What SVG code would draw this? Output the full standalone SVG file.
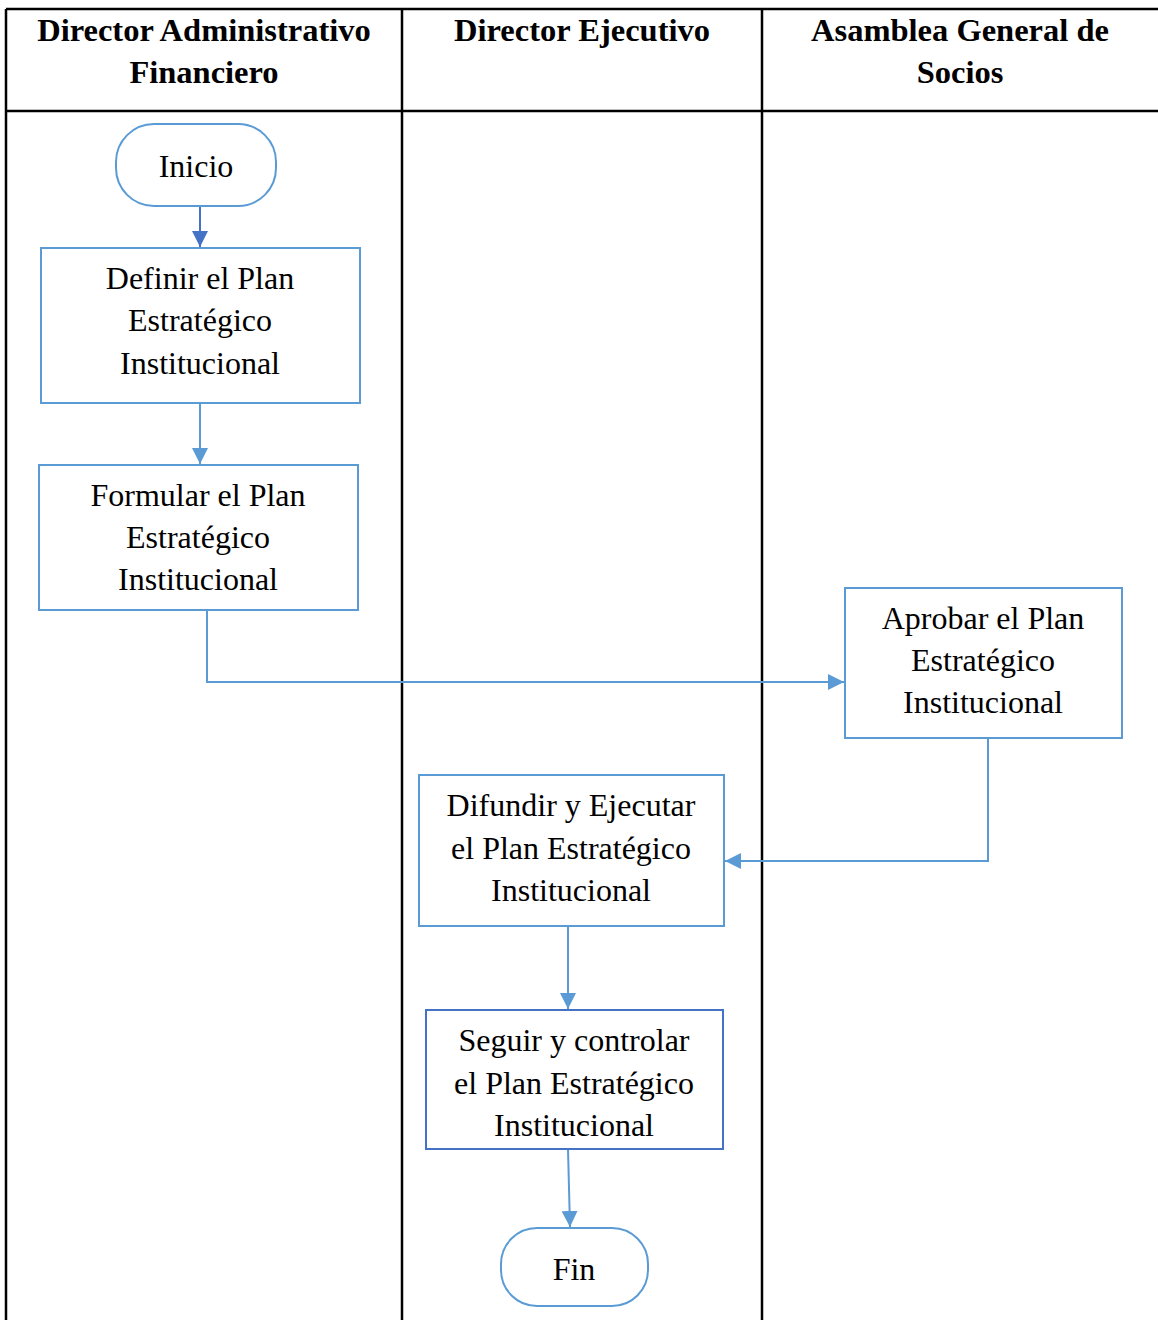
<svg xmlns="http://www.w3.org/2000/svg" width="1158" height="1320" viewBox="0 0 1158 1320">
<style>
.grid{stroke:#000;stroke-width:2.5;fill:none}
.hd{font-family:"Liberation Serif","Times New Roman",serif;font-weight:bold;font-size:32.5px;fill:#000;text-anchor:middle}
.tx{font-family:"Liberation Serif","Times New Roman",serif;font-size:32px;fill:#000;text-anchor:middle}
.box{fill:#fff;stroke:#5B9BD5;stroke-width:2}
.box2{fill:#fff;stroke:#4472C4;stroke-width:2}
.con{fill:none;stroke:#5B9BD5;stroke-width:2}
</style>
<defs>
<marker id="ah" viewBox="0 0 10 10" refX="10" refY="5" markerWidth="16" markerHeight="16" markerUnits="userSpaceOnUse" orient="auto"><path d="M0,0 L10,5 L0,10 z" fill="#5B9BD5"/></marker>
<marker id="ah2" viewBox="0 0 10 10" refX="10" refY="5" markerWidth="16" markerHeight="16" markerUnits="userSpaceOnUse" orient="auto"><path d="M0,0 L10,5 L0,10 z" fill="#4472C4"/></marker>
</defs>
<rect width="1158" height="1320" fill="#fff"/>
<g id="table">
<line class="grid" x1="6" y1="9" x2="1158" y2="9"/>
<line class="grid" x1="6" y1="111" x2="1158" y2="111"/>
<line class="grid" x1="6" y1="9" x2="6" y2="1320"/>
<line class="grid" x1="402" y1="9" x2="402" y2="1320"/>
<line class="grid" x1="762" y1="9" x2="762" y2="1320"/>
<text class="hd" x="204" y="41">Director Administrativo</text>
<text class="hd" x="204" y="83">Financiero</text>
<text class="hd" x="582" y="41">Director Ejecutivo</text>
<text class="hd" x="960" y="41">Asamblea General de</text>
<text class="hd" x="960" y="83">Socios</text>
</g>
<g id="connectors">
<line class="con" x1="200" y1="206" x2="200" y2="247" style="stroke:#4472C4" marker-end="url(#ah2)"/>
<line class="con" x1="200" y1="403" x2="200" y2="464" marker-end="url(#ah)"/>
<polyline class="con" points="207,610 207,682 844,682" marker-end="url(#ah)"/>
<polyline class="con" points="988,738 988,861 725,861" marker-end="url(#ah)"/>
<line class="con" x1="568" y1="926" x2="568" y2="1009" marker-end="url(#ah)"/>
<line class="con" x1="568" y1="1149" x2="570" y2="1227" marker-end="url(#ah)"/>
</g>
<g id="inicio">
<rect class="box" x="116" y="124" width="160" height="82" rx="38" ry="38"/>
<text class="tx" x="196" y="177">Inicio</text>
</g>
<g id="definir">
<rect class="box" x="41" y="248" width="319" height="155"/>
<text class="tx" x="200" y="289">Definir el Plan</text>
<text class="tx" x="200" y="331">Estratégico</text>
<text class="tx" x="200" y="374">Institucional</text>
</g>
<g id="formular">
<rect class="box" x="39" y="465" width="319" height="145"/>
<text class="tx" x="198" y="506">Formular el Plan</text>
<text class="tx" x="198" y="548">Estratégico</text>
<text class="tx" x="198" y="590">Institucional</text>
</g>
<g id="aprobar">
<rect class="box" x="845" y="588" width="277" height="150"/>
<text class="tx" x="983" y="629">Aprobar el Plan</text>
<text class="tx" x="983" y="671">Estratégico</text>
<text class="tx" x="983" y="713">Institucional</text>
</g>
<g id="difundir">
<rect class="box" x="419" y="775" width="305" height="151"/>
<text class="tx" x="571" y="816">Difundir y Ejecutar</text>
<text class="tx" x="571" y="859">el Plan Estratégico</text>
<text class="tx" x="571" y="901">Institucional</text>
</g>
<g id="seguir">
<rect class="box2" x="426" y="1010" width="297" height="139"/>
<text class="tx" x="574" y="1051">Seguir y controlar</text>
<text class="tx" x="574" y="1094">el Plan Estratégico</text>
<text class="tx" x="574" y="1136">Institucional</text>
</g>
<g id="fin">
<rect class="box" x="501" y="1228" width="147" height="78" rx="36" ry="36"/>
<text class="tx" x="574" y="1280">Fin</text>
</g>
</svg>
